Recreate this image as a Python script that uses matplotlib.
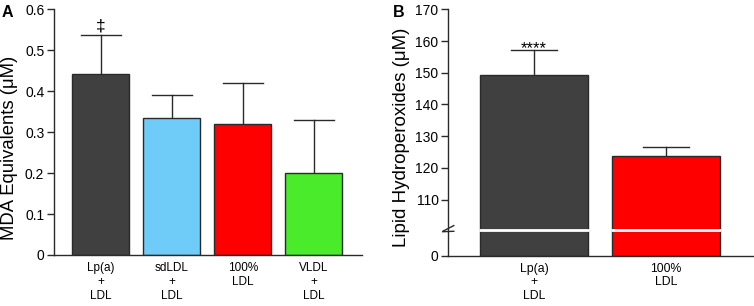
import numpy as np
import matplotlib
matplotlib.use("Agg")
import matplotlib.pyplot as plt

plt.rcParams['font.family'] = ['Liberation Sans', 'DejaVu Sans']

# Panel A data
a_labels = ["Lp(a)\n+\nLDL", "sdLDL\n+\nLDL", "100%\nLDL", "VLDL\n+\nLDL"]
a_means = [0.443, 0.335, 0.319, 0.200]
a_err = [0.095, 0.056, 0.100, 0.130]
a_colors = ["#404040", "#6FCBF7", "#FF0000", "#4AEB2A"]
a_yticks = [0, 0.1, 0.2, 0.3, 0.4, 0.5, 0.6]
a_yticklabels = ["0", "0.1", "0.2", "0.3", "0.4", "0.5", "0.6"]

# Panel B data
b_labels = ["Lp(a)\n+\nLDL", "100%\nLDL"]
b_means = [149.2, 123.8]
b_err = [7.9, 2.8]
b_colors = ["#404040", "#FF0000"]
b_yticks = [0, 110, 120, 130, 140, 150, 160, 170]

EDGE = "#2a2a2a"
fig = plt.figure(figsize=(7.54, 3.06), dpi=100)

# ---------- Panel A ----------
axA = fig.add_axes([54/754, 51/306, 308/754, 245.7/306])
xa = np.arange(len(a_means))
axA.bar(xa, a_means, width=0.8, color=a_colors, edgecolor=EDGE, linewidth=1.0, zorder=2)
for x, m, e in zip(xa, a_means, a_err):
    axA.plot([x, x], [m, m + e], color=EDGE, lw=1.0, zorder=1)
    axA.plot([x - 0.28, x + 0.28], [m + e, m + e], color=EDGE, lw=1.0, zorder=1)
axA.set_xlim(-0.66, 3.68)
axA.set_ylim(0, 0.6)
axA.set_yticks(a_yticks)
axA.set_yticklabels(a_yticklabels, fontsize=10)
axA.set_xticks(xa)
axA.set_xticklabels(a_labels, fontsize=8.5, linespacing=1.2)
axA.tick_params(axis='x', length=0, pad=5)
axA.tick_params(axis='y', length=5, width=1, color=EDGE, pad=2)
axA.set_ylabel("MDA Equivalents (μM)", fontsize=13.3)
axA.yaxis.set_label_coords(-0.117, 0.4375)
for s in ['top', 'right']:
    axA.spines[s].set_visible(False)
for s in ['left', 'bottom']:
    axA.spines[s].set_color(EDGE)
    axA.spines[s].set_linewidth(1.0)
axA.annotate("‡", xy=(xa[0], a_means[0] + a_err[0]), xytext=(0, 0.5), textcoords='offset points',
             ha='center', va='bottom', fontsize=12.5)
fig.text(2/754, 1 - 12.5/306, "A", fontsize=11.5, fontweight='bold', va='center', ha='left')

# ---------- Panel B (broken axis) ----------
BRK = 100.0
L = 7.7
def fwd(y):
    y = np.asarray(y, dtype=float)
    return np.where(y <= BRK, y * L / BRK, L + (y - BRK))
def inv(v):
    v = np.asarray(v, dtype=float)
    return np.where(v <= L, v * BRK / L, BRK + (v - L))

axB = fig.add_axes([448.3/754, 50.3/306, 304.7/754, 246.4/306])
axB.set_yscale('function', functions=(fwd, inv))
xb = np.arange(len(b_means))
axB.bar(xb, b_means, width=0.82, color=b_colors, edgecolor=EDGE, linewidth=1.0, zorder=2)
for x, m, e in zip(xb, b_means, b_err):
    axB.plot([x, x], [m, m + e], color=EDGE, lw=1.0, zorder=1)
    axB.plot([x - 0.175, x + 0.175], [m + e, m + e], color=EDGE, lw=1.0, zorder=1)
    axB.plot([x - 0.414, x + 0.414], [BRK + 0.5, BRK + 0.5], color='white', lw=2.0, zorder=3, solid_capstyle='butt')
axB.set_xlim(-0.65, 1.66)
axB.set_ylim(0, 170)
axB.set_yticks(b_yticks)
axB.set_yticklabels([str(t) for t in b_yticks], fontsize=10)
axB.minorticks_off()
axB.set_xticks(xb)
axB.set_xticklabels(b_labels, fontsize=8.8, linespacing=1.2)
axB.tick_params(axis='x', length=0, pad=5)
axB.tick_params(axis='y', length=5, width=1, color=EDGE, pad=2)
axB.set_ylabel("Lipid Hydroperoxides (μM)", fontsize=13.5)
axB.yaxis.set_label_coords(-0.126, 0.482)
for s in ['top', 'right']:
    axB.spines[s].set_visible(False)
for s in ['left', 'bottom']:
    axB.spines[s].set_color(EDGE)
    axB.spines[s].set_linewidth(1.0)
axB.annotate("****", xy=(xb[0], b_means[0] + b_err[0]), xytext=(0, -2), textcoords='offset points',
             ha='center', va='baseline', fontsize=12)
# break marks on the axis
tr = axB.get_yaxis_transform()
for off in (-0.9, 0.9):
    yv = BRK + off
    axB.plot([-0.018, 0.018], [yv - 0.9, yv + 0.9], transform=tr, color=EDGE, lw=1.0, clip_on=False, zorder=5)
fig.text(393/754, 1 - 12.5/306, "B", fontsize=11.5, fontweight='bold', va='center', ha='left')

fig.savefig("out.png", dpi=100)
